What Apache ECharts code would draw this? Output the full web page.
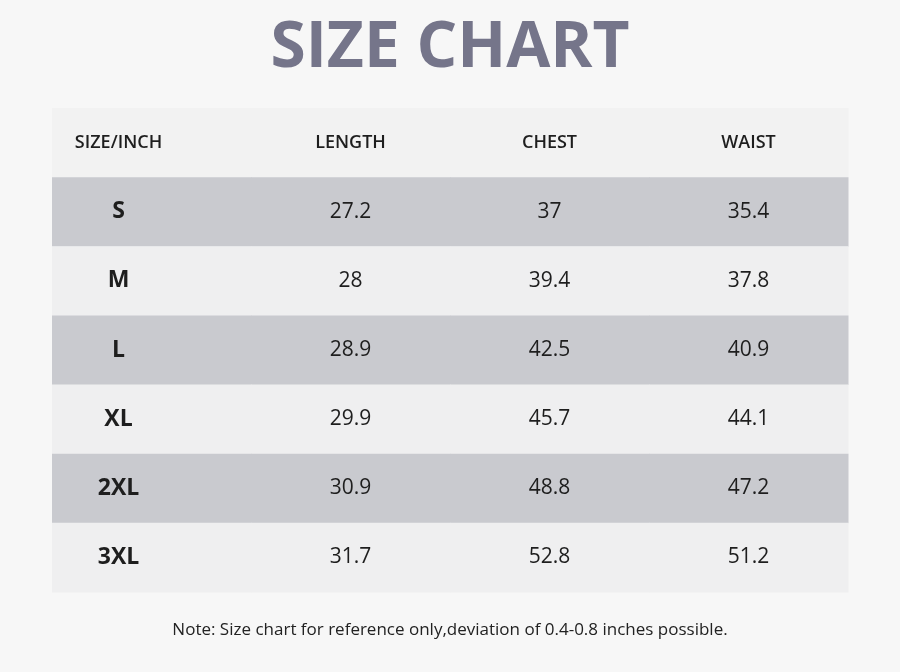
<!DOCTYPE html>
<html><head><meta charset="utf-8">
<script src="https://cdn.jsdelivr.net/npm/echarts@6/dist/echarts.min.js"></script>
<style>html,body{margin:0;padding:0;background:#f7f7f7}#c{width:900px;height:672px}</style>
</head><body><div id="c"></div>
<script>
const headers = ['SIZE/INCH','LENGTH','CHEST','WAIST'];
const sizes = ['S','M','L','XL','2XL','3XL'];
const lengthVals = ['27.2','28','28.9','29.9','30.9','31.7'];
const chestVals = ['37','39.4','42.5','45.7','48.8','52.8'];
const waistVals = ['35.4','37.8','40.9','44.1','47.2','51.2'];

const rows = ['H'].concat(sizes);
const data = [];
headers.forEach((h,c)=>data.push([c,0,h]));
sizes.forEach((s,i)=>{
  const r=i+1;
  data.push([0,r,s]);
  data.push([1,r,lengthVals[i]]);
  data.push([2,r,chestVals[i]]);
  data.push([3,r,waistVals[i]]);
});

const chart = echarts.init(document.getElementById('c'));
chart.setOption({
  backgroundColor:'#f7f7f7',
  title:{text:'SIZE CHART',left:'center',top:12,
    textStyle:{fontFamily:'Open Sans',fontWeight:'bold',fontSize:64,color:'#75758a'}},
  graphic:[{type:'text',left:'center',top:622,
    style:{text:'Note: Size chart for reference only,deviation of 0.4-0.8 inches possible.',
      font:'500 17px "Open Sans"',fill:'#222'}}],
  grid:{left:52,right:52,top:108,bottom:80},
  xAxis:{type:'category',data:headers,show:false},
  yAxis:{type:'category',data:rows,inverse:true,show:false},
  series:[{type:'custom',data:data,
    renderItem:function(params,api){
      const c=api.value(0), r=api.value(1);
      const p=api.coord([c,r]);
      const sz=api.size([1,1]);
      const fill = r===0 ? '#f2f2f2' : (r%2===1 ? '#c9cacf' : '#efeff0');
      const txt = data[params.dataIndex][2];
      let font;
      if(r===0) font='600 18px "Open Sans"';
      else if(c===0) font='bold 23px "Open Sans"';
      else font='21px "Open Sans"';
      return {type:'group',children:[
        {type:'rect',shape:{x:p[0]-sz[0]/2,y:p[1]-sz[1]/2,width:sz[0]+0.5,height:sz[1]+0.5},
         style:{fill:fill}},
        {type:'text',x:c===0?p[0]-33:p[0],y:p[1],
         style:{text:txt,font:font,fill:'#1e1e1e',align:'center',verticalAlign:'middle'}}
      ]};
    }
  }]
});
</script></body></html>
